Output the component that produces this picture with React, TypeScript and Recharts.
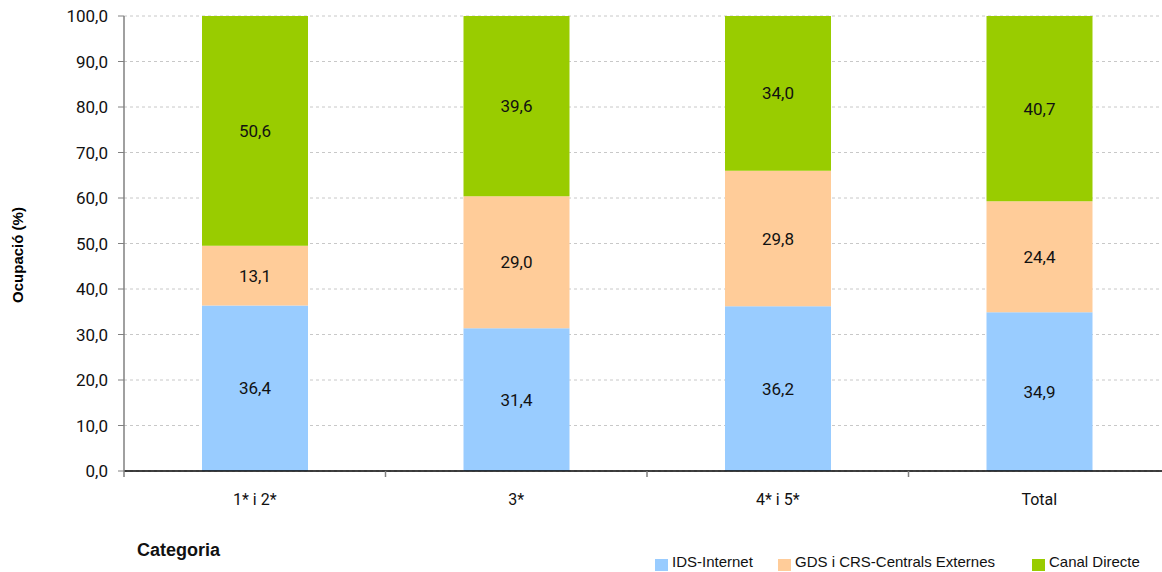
import { Bar, BarChart, CartesianGrid, LabelList, XAxis, YAxis } from "recharts";

const categories = ["1* i 2*", "3*", "4* i 5*", "Total"];
const idsInternet = [36.4, 31.4, 36.2, 34.9];
const gdsCrs = [13.1, 29.0, 29.8, 24.4];
const canalDirecte = [50.6, 39.6, 34.0, 40.7];
const yTicks = [0, 10, 20, 30, 40, 50, 60, 70, 80, 90, 100];

const series = [
  { key: "ids", name: "IDS-Internet", color: "#99ccff", legendX: 655 },
  { key: "gds", name: "GDS i CRS-Centrals Externes", color: "#ffcc99", legendX: 778 },
  { key: "canal", name: "Canal Directe", color: "#99cc00", legendX: 1032 }
];

const data = categories.map((c, i) => ({
  cat: c,
  ids: idsInternet[i],
  gds: gdsCrs[i],
  canal: canalDirecte[i]
}));

const fmt = (v: any) => Number(v).toFixed(1).replace(".", ",");
const HALF_BAND = 130.75;

// Recharts hands the tick y already offset by tickSize + tickMargin (6 + 2)
function CatTick(props: any) {
  const { x, y, payload, index } = props;
  const axisY = y - 8;
  return (
    <g>
      <line x1={x - HALF_BAND} x2={x - HALF_BAND} y1={axisY} y2={axisY + 6} stroke="#808080" strokeWidth={1.5} />
      {index === categories.length - 1 && (
        <line x1={x + HALF_BAND} x2={x + HALF_BAND} y1={axisY} y2={axisY + 6} stroke="#808080" strokeWidth={1.5} />
      )}
      <text x={x} y={axisY + 30} textAnchor="middle" dominantBaseline="middle" fill="#111" fontSize={16} fontFamily="Roboto">
        {payload.value}
      </text>
    </g>
  );
}

export default function App() {
  return (
    <div style={{ position: "absolute", left: 0, top: 0, width: 1162, height: 572, overflow: "hidden", background: "#fff" }}>
      <BarChart
        width={1170}
        height={572}
        data={data}
        margin={{ top: 16, right: 0, bottom: 0, left: 0 }}
        barCategoryGap={0}
      >
        <CartesianGrid vertical={false} stroke="#c8c8c8" strokeDasharray="3 3" />
        <XAxis
          dataKey="cat"
          height={101}
          axisLine={{ stroke: "#000", strokeWidth: 1.5 }}
          tickLine={false}
          tick={<CatTick />}
          interval={0}
        />
        <YAxis
          width={124}
          domain={[0, 100]}
          ticks={yTicks}
          allowDataOverflow
          tickFormatter={fmt}
          axisLine={{ stroke: "#808080", strokeWidth: 1.5 }}
          tickLine={{ stroke: "#808080" }}
          tickSize={6}
          tickMargin={10}
          tick={{ fill: "#111", fontSize: 17, fontFamily: "Roboto" }}
        />
        {series.map((s) => (
          <Bar key={s.key} dataKey={s.key} name={s.name} stackId="a" fill={s.color} barSize={106} isAnimationActive={false}>
            <LabelList dataKey={s.key} position="center" formatter={fmt} fill="#111" fontSize={17} fontFamily="Roboto" />
          </Bar>
        ))}
      </BarChart>
      <div
        style={{
          position: "absolute",
          left: 17,
          top: 255,
          transform: "translate(-50%, -50%) rotate(-90deg)",
          fontFamily: "Liberation Sans, Arial",
          fontWeight: "bold",
          fontSize: 15,
          whiteSpace: "nowrap",
          color: "#000"
        }}
      >
        Ocupació (%)
      </div>
      <div
        style={{
          position: "absolute",
          left: 137,
          top: 539,
          fontFamily: "Liberation Sans, Arial",
          fontWeight: "bold",
          fontSize: 18,
          lineHeight: "22px",
          color: "#111"
        }}
      >
        Categoria
      </div>
      {series.map((s) => (
        <div key={s.key} style={{ position: "absolute", left: s.legendX, top: 553 }}>
          <span style={{ position: "absolute", left: 0, top: 6, width: 13, height: 12, background: s.color }} />
          <span
            style={{
              position: "absolute",
              left: 17,
              top: 0,
              whiteSpace: "nowrap",
              fontFamily: "Liberation Sans, Arial",
              fontSize: 15,
              lineHeight: "17px",
              color: "#111"
            }}
          >
            {s.name}
          </span>
        </div>
      ))}
    </div>
  );
}
